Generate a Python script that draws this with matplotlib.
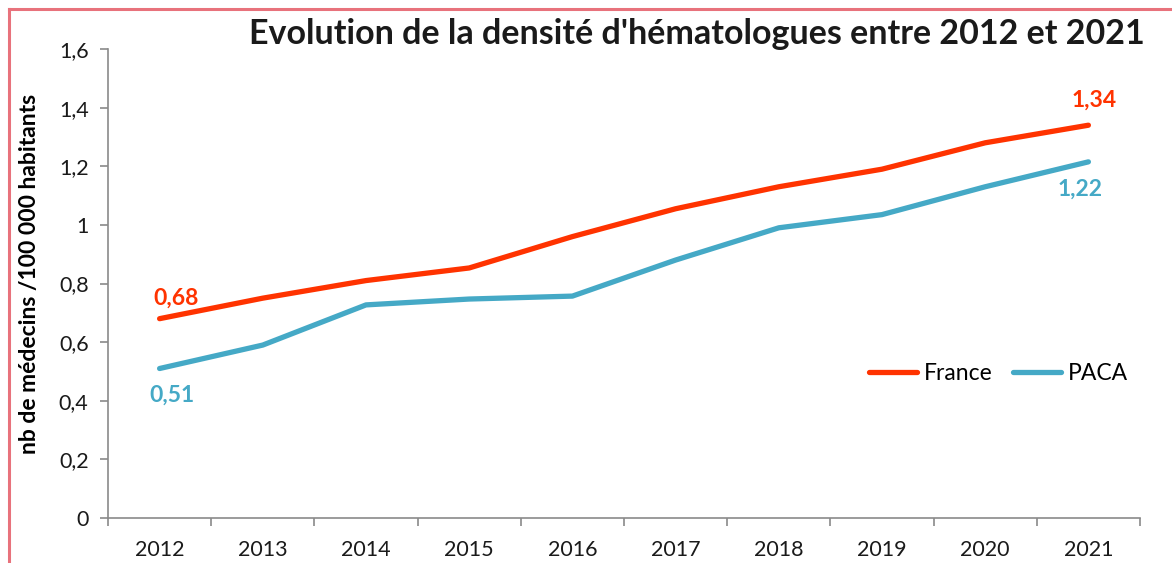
import matplotlib.pyplot as plt
from matplotlib.lines import Line2D
from matplotlib.ticker import FuncFormatter, FixedLocator

# data
years = [2012, 2013, 2014, 2015, 2016, 2017, 2018, 2019, 2020, 2021]
france = [0.68, 0.75, 0.81, 0.853, 0.96, 1.055, 1.13, 1.19, 1.28, 1.34]
paca = [0.51, 0.59, 0.727, 0.747, 0.757, 0.88, 0.99, 1.035, 1.13, 1.215]
france_labels = {0: "0,68", 9: "1,34"}
paca_labels = {0: "0,51", 9: "1,22"}

red = "#FF3300"
blue = "#45A9C6"
grey = "#8A8A8A"
border = "#E8727C"

plt.rcParams["font.family"] = ["Lato", "DejaVu Sans"]

fig = plt.figure(figsize=(11.72, 5.63), dpi=100)
ax = fig.add_axes([108 / 1172, 45 / 563, 1032 / 1172, 469 / 563])

x = list(range(len(years)))
ax.plot(x, france, color=red, lw=3.8, solid_capstyle="round", solid_joinstyle="round", label="France")
ax.plot(x, paca, color=blue, lw=3.8, solid_capstyle="round", solid_joinstyle="round", label="PACA")

# value labels at both ends
for i, txt in france_labels.items():
    off = (12, 15) if i == 0 else (4, 18)
    ax.annotate(txt, (x[i], france[i]), xytext=off, textcoords="offset points",
                ha="center", va="center", color=red, fontsize=16.5, fontweight="bold")
for i, txt in paca_labels.items():
    off = (9, -19) if i == 0 else (-6, -20)
    ax.annotate(txt, (x[i], paca[i]), xytext=off, textcoords="offset points",
                ha="center", va="center", color=blue, fontsize=16.5, fontweight="bold")

ax.set_xlim(-0.5, len(years) - 0.5)
ax.set_ylim(0, 1.6)

# category boundaries get the tick marks, labels sit between them
ax.xaxis.set_major_locator(FixedLocator([i - 0.5 for i in range(len(years) + 1)]))
ax.xaxis.set_major_formatter(FuncFormatter(lambda v, p: ""))
ax.xaxis.set_minor_locator(FixedLocator(x))
ax.xaxis.set_minor_formatter(FuncFormatter(lambda v, p: str(years[int(round(v))])))
ax.tick_params(axis="x", which="major", length=6, color=grey, width=1.2)
ax.tick_params(axis="x", which="minor", length=0, pad=16, labelsize=15.5, labelcolor="#1a1a1a")

ax.set_yticks([0, 0.2, 0.4, 0.6, 0.8, 1.0, 1.2, 1.4, 1.6])
ax.yaxis.set_major_formatter(FuncFormatter(lambda v, p: f"{v:g}".replace(".", ",")))
ax.tick_params(axis="y", length=6, color=grey, width=1.2, pad=8, labelsize=15.5, labelcolor="#1a1a1a")

for side in ["top", "right"]:
    ax.spines[side].set_visible(False)
for side in ["left", "bottom"]:
    ax.spines[side].set_color(grey)
    ax.spines[side].set_linewidth(1.2)

ax.set_ylabel("nb de médecins /100 000 habitants", fontsize=16.5, fontweight="bold")
ax.yaxis.set_label_coords(-0.066, 0.52)

fig.text(0.977, 0.94, "Evolution de la densité d'hématologues entre 2012 et 2021",
         ha="right", va="center", fontsize=24.5, fontweight="bold", color="#1a1a1a")

ax.legend(loc="center", bbox_to_anchor=(0.863, 0.309), ncol=2, frameon=False,
          fontsize=16.5, handlelength=2.1, columnspacing=0.9, handletextpad=0.3)

# pink frame on top and left edges only
fig.add_artist(Line2D([9 / 1172, 1], [1 - 9 / 563, 1 - 9 / 563], color=border, lw=2.2,
                      transform=fig.transFigure))
fig.add_artist(Line2D([9 / 1172, 9 / 1172], [0, 1 - 9 / 563], color=border, lw=2.2,
                      transform=fig.transFigure))

fig.savefig("out.png", dpi=100)
